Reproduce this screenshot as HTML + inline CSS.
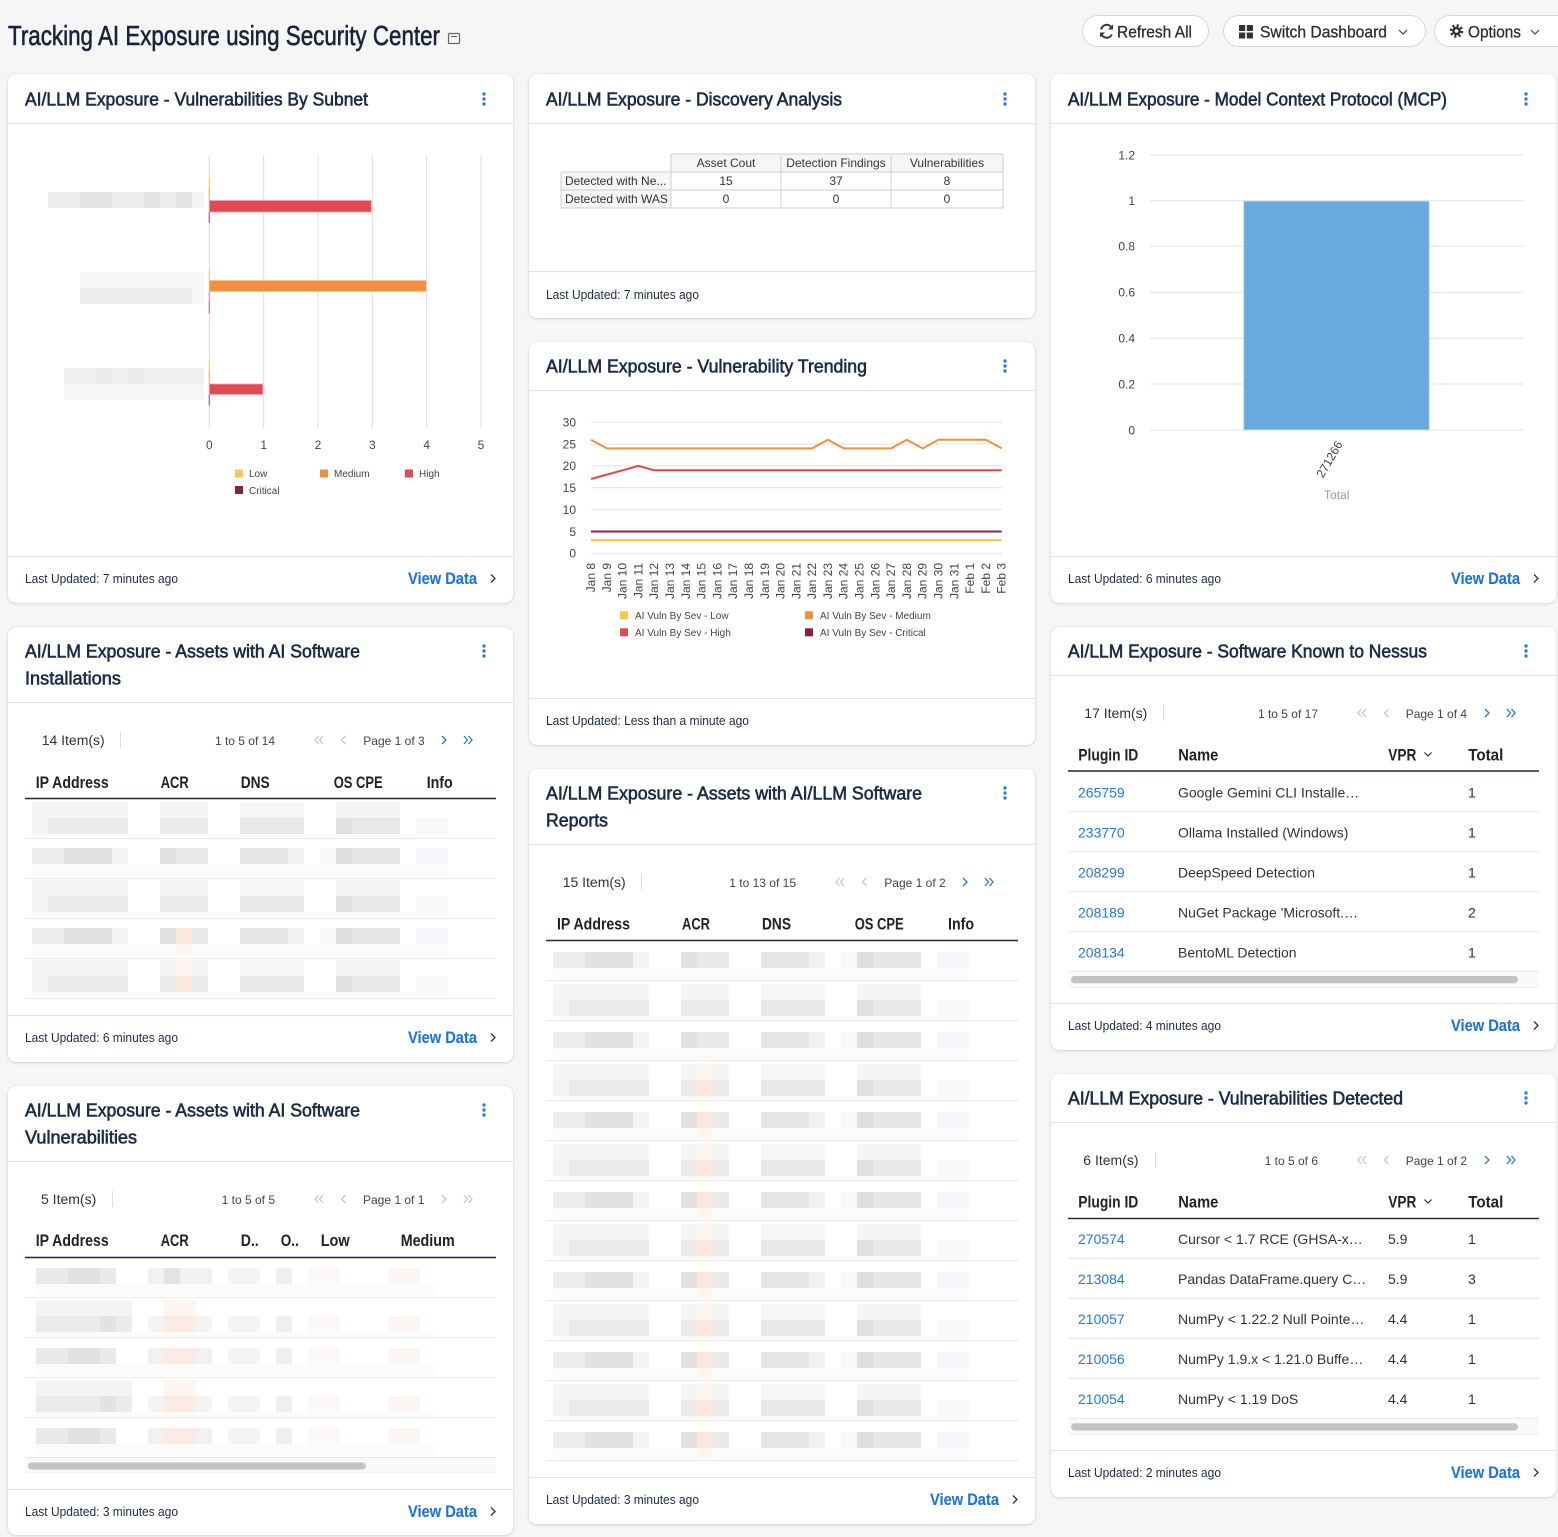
<!DOCTYPE html>
<html><head><meta charset="utf-8">
<style>
html,body{margin:0;padding:0;background:#f6f6f7;}
body{width:1558px;height:1537px;position:relative;overflow:hidden;}
.c{position:absolute;background:#fff;border-radius:8px;box-shadow:0 1px 3px rgba(0,0,0,0.13),0 0 1px rgba(0,0,0,0.14);}
svg{position:absolute;left:0;top:0;}
text{font-family:"Liberation Sans",Arial,sans-serif;}
.t{font-size:18.5px;fill:#1b2a47;stroke:#1b2a47;stroke-width:0.6;}
.f{font-size:13px;fill:#1e2b45;}
.v{font-size:17px;font-weight:bold;fill:#1c73d8;stroke:#1c73d8;stroke-width:0.1;}
.h{font-size:17px;font-weight:bold;fill:#222;}
.d{font-size:14px;fill:#333;}
.s{font-size:12px;fill:#444;}
.lk{font-size:14px;fill:#2478d8;}
.ax{font-size:12px;fill:#444;}
.lg{font-size:10px;fill:#444;}
.bt{font-size:17px;fill:#2e2e2e;stroke:#2e2e2e;stroke-width:0.3;}
</style></head><body>
<div class="c" style="left:8px;top:74px;width:505px;height:529px"></div>
<div class="c" style="left:8px;top:627px;width:505px;height:435px"></div>
<div class="c" style="left:8px;top:1086px;width:505px;height:449px"></div>
<div class="c" style="left:529px;top:74px;width:506px;height:244px"></div>
<div class="c" style="left:529px;top:342px;width:506px;height:403px"></div>
<div class="c" style="left:529px;top:769px;width:506px;height:755px"></div>
<div class="c" style="left:1051px;top:74px;width:505px;height:529px"></div>
<div class="c" style="left:1051px;top:627px;width:505px;height:423px"></div>
<div class="c" style="left:1051px;top:1074px;width:505px;height:423px"></div>

<svg width="1558" height="1537" viewBox="0 0 1558 1537">
<defs>
 <g id="bA">
  <rect x="24" y="28" width="416" height="12" fill="#fbfbfb"/>
  <rect x="24" y="12" width="96" height="16" fill="#ececec"/>
  <rect x="56" y="12" width="48" height="16" fill="#e2e2e2"/>
  <rect x="104" y="12" width="16" height="16" fill="#f4f4f4"/>
  <rect x="152" y="12" width="48" height="16" fill="#e9e9e9"/>
  <rect x="152" y="12" width="16" height="16" fill="#e2e2e2"/>
  <rect x="232" y="12" width="64" height="16" fill="#e6e6e6"/>
  <rect x="280" y="12" width="16" height="16" fill="#f1f1f1"/>
  <rect x="312" y="12" width="16" height="16" fill="#f9f9f9"/>
  <rect x="328" y="12" width="64" height="16" fill="#e7e7e7"/>
  <rect x="328" y="12" width="16" height="16" fill="#dedede"/>
  <rect x="408" y="12" width="32" height="16" fill="#f5f6fb"/>
 </g>
 <g id="bB">
  <rect x="24" y="36" width="416" height="4" fill="#fbfbfb"/>
  <rect x="24" y="4" width="96" height="16" fill="#f5f5f5"/>
  <rect x="152" y="4" width="48" height="16" fill="#f5f5f5"/>
  <rect x="232" y="4" width="64" height="16" fill="#f6f6f6"/>
  <rect x="328" y="4" width="64" height="16" fill="#f5f5f5"/>
  <rect x="24" y="20" width="96" height="16" fill="#ebebeb"/>
  <rect x="24" y="20" width="16" height="16" fill="#f3f3f3"/>
  <rect x="152" y="20" width="48" height="16" fill="#ebebeb"/>
  <rect x="232" y="20" width="64" height="16" fill="#e8e8e8"/>
  <rect x="328" y="20" width="64" height="16" fill="#e9e9e9"/>
  <rect x="328" y="20" width="16" height="16" fill="#e1e1e1"/>
  <rect x="408" y="20" width="32" height="16" fill="#f8f8fb"/>
 </g>
 <g id="pA"><rect x="168" y="12" width="16" height="16" fill="#fde6de"/><rect x="168" y="28" width="16" height="12" fill="#fdf5f2"/></g>
 <g id="pB"><rect x="168" y="4" width="16" height="16" fill="#fdf3ef"/><rect x="168" y="20" width="16" height="16" fill="#fde6de"/></g>
 <g id="cA">
  <rect x="28" y="27" width="400" height="12" fill="#fbfbfb"/>
  <rect x="28" y="11" width="80" height="16" fill="#e9e9e9"/>
  <rect x="60" y="11" width="32" height="16" fill="#e1e1e1"/>
  <rect x="140" y="11" width="64" height="16" fill="#f1f1f1"/>
  <rect x="156" y="11" width="16" height="16" fill="#e3e3e3"/>
  <rect x="220" y="11" width="32" height="16" fill="#f3f3f3"/>
  <rect x="268" y="11" width="16" height="16" fill="#efefef"/>
  <rect x="300" y="11" width="32" height="16" fill="#fbf8f7"/>
  <rect x="380" y="11" width="32" height="16" fill="#fbf5f4"/>
 </g>
 <g id="cB">
  <rect x="28" y="35" width="400" height="5" fill="#fbfbfb"/>
  <rect x="28" y="3" width="96" height="16" fill="#f4f4f4"/>
  <rect x="28" y="19" width="96" height="16" fill="#ebebeb"/>
  <rect x="92" y="19" width="16" height="16" fill="#e2e2e2"/>
  <rect x="140" y="19" width="64" height="16" fill="#f3f3f3"/>
  <rect x="220" y="19" width="32" height="16" fill="#f3f3f3"/>
  <rect x="268" y="19" width="16" height="16" fill="#efefef"/>
  <rect x="300" y="19" width="32" height="16" fill="#fbf8f7"/>
  <rect x="380" y="19" width="32" height="16" fill="#fbf5f4"/>
 </g>
 <g id="cpA"><rect x="156" y="11" width="32" height="16" fill="#fcebe5"/></g>
 <g id="cpB"><rect x="156" y="3" width="32" height="16" fill="#fdf5f2"/><rect x="156" y="19" width="32" height="16" fill="#fcebe5"/></g>
 <g id="pgOn" fill="none" stroke-width="1.3">
  <path d="M318.5,-4 l-3.5,4 l3.5,4 M323,-4 l-3.5,4 l3.5,4 M345.5,-4 l-4,4 l4,4" stroke="#c9c9c9"/>
  <path d="M442,-4 l4,4 l-4,4 M464,-4 l3.5,4 l-3.5,4 M468.5,-4 l3.5,4 l-3.5,4" stroke="#2478d8"/>
 </g>
 <g id="pgOff" fill="none" stroke-width="1.3">
  <path d="M318.5,-4 l-3.5,4 l3.5,4 M323,-4 l-3.5,4 l3.5,4 M345.5,-4 l-4,4 l4,4" stroke="#c9c9c9"/>
  <path d="M442,-4 l4,4 l-4,4 M464,-4 l3.5,4 l-3.5,4 M468.5,-4 l3.5,4 l-3.5,4" stroke="#c9c9c9"/>
 </g>
</defs>

<!-- Page header -->
<text x="8" y="45" font-size="28" fill="#16233d" stroke="#16233d" stroke-width="0.6" textLength="432" lengthAdjust="spacingAndGlyphs">Tracking AI Exposure using Security Center</text>
<rect x="448.5" y="33.5" width="11" height="10" rx="1" fill="none" stroke="#666" stroke-width="1.2"/>
<line x1="451" y1="36.5" x2="457" y2="36.5" stroke="#666" stroke-width="1"/>

<rect x="1082.5" y="15.5" width="126" height="31" rx="15.5" fill="#fff" stroke="#d8d8d8"/>
<path d="M1111.8,28 A5.6,5.6 0 0 0 1101.2,29.5" fill="none" stroke="#333" stroke-width="2"/>
<path d="M1113,24.5 l0,5 l-5,0 z" fill="#333"/>
<path d="M1101.2,33 A5.6,5.6 0 0 0 1111.8,34.5" fill="none" stroke="#333" stroke-width="2"/>
<path d="M1100,37.5 l0,-5 l5,0 z" fill="#333"/>
<text x="1117" y="37.3" class="bt" textLength="75" lengthAdjust="spacingAndGlyphs">Refresh All</text>

<rect x="1223.5" y="15.5" width="202" height="31" rx="15.5" fill="#fff" stroke="#d8d8d8"/>
<rect x="1239" y="25" width="6.2" height="6" fill="#333"/><rect x="1246.8" y="25" width="6.2" height="6" fill="#333"/>
<rect x="1239" y="32.5" width="6.2" height="6" fill="#333"/><rect x="1246.8" y="32.5" width="6.2" height="6" fill="#333"/>
<text x="1260" y="37.3" class="bt" textLength="127" lengthAdjust="spacingAndGlyphs">Switch Dashboard</text>
<path d="M1399,30 l4,4 l4,-4" fill="none" stroke="#444" stroke-width="1.2"/>

<rect x="1434.5" y="15.5" width="140" height="31" rx="15.5" fill="#fff" stroke="#d8d8d8"/>
<circle cx="1456.5" cy="31" r="5.3" fill="none" stroke="#333" stroke-width="3" stroke-dasharray="2.1 2.06"/>
<circle cx="1456.5" cy="31" r="4.3" fill="#333"/>
<circle cx="1456.5" cy="31" r="1.8" fill="#fff"/>
<text x="1468" y="37.3" class="bt" textLength="53" lengthAdjust="spacingAndGlyphs">Options</text>
<path d="M1531,30 l4,4 l4,-4" fill="none" stroke="#444" stroke-width="1.2"/>

<!-- Card dividers -->
<g stroke="#e3e3e3" stroke-width="1.2">
 <line x1="8" y1="123.5" x2="513" y2="123.5"/><line x1="8" y1="556.5" x2="513" y2="556.5"/>
 <line x1="8" y1="702.5" x2="513" y2="702.5"/><line x1="8" y1="1015.5" x2="513" y2="1015.5"/>
 <line x1="8" y1="1161.5" x2="513" y2="1161.5"/><line x1="8" y1="1489.5" x2="513" y2="1489.5"/>
 <line x1="529" y1="123.5" x2="1035" y2="123.5"/><line x1="529" y1="271.5" x2="1035" y2="271.5"/>
 <line x1="529" y1="390.5" x2="1035" y2="390.5"/><line x1="529" y1="698.5" x2="1035" y2="698.5"/>
 <line x1="529" y1="844.5" x2="1035" y2="844.5"/><line x1="529" y1="1477.5" x2="1035" y2="1477.5"/>
 <line x1="1051" y1="123.5" x2="1556" y2="123.5"/><line x1="1051" y1="556.5" x2="1556" y2="556.5"/>
 <line x1="1051" y1="675.5" x2="1556" y2="675.5"/><line x1="1051" y1="1003.5" x2="1556" y2="1003.5"/>
 <line x1="1051" y1="1122.5" x2="1556" y2="1122.5"/><line x1="1051" y1="1450.5" x2="1556" y2="1450.5"/>
</g>

<!-- Card titles -->
<text x="25" y="105.5" class="t" textLength="343" lengthAdjust="spacingAndGlyphs">AI/LLM Exposure - Vulnerabilities By Subnet</text>
<text x="546" y="105.5" class="t" textLength="296" lengthAdjust="spacingAndGlyphs">AI/LLM Exposure - Discovery Analysis</text>
<text x="1068" y="105.5" class="t" textLength="379" lengthAdjust="spacingAndGlyphs">AI/LLM Exposure - Model Context Protocol (MCP)</text>
<text x="25" y="657.5" class="t" textLength="335" lengthAdjust="spacingAndGlyphs">AI/LLM Exposure - Assets with AI Software</text>
<text x="25" y="684.5" class="t" textLength="96" lengthAdjust="spacingAndGlyphs">Installations</text>
<text x="546" y="372.5" class="t" textLength="321" lengthAdjust="spacingAndGlyphs">AI/LLM Exposure - Vulnerability Trending</text>
<text x="1068" y="657.5" class="t" textLength="359" lengthAdjust="spacingAndGlyphs">AI/LLM Exposure - Software Known to Nessus</text>
<text x="546" y="799.5" class="t" textLength="376" lengthAdjust="spacingAndGlyphs">AI/LLM Exposure - Assets with AI/LLM Software</text>
<text x="546" y="826.5" class="t" textLength="62" lengthAdjust="spacingAndGlyphs">Reports</text>
<text x="25" y="1116.5" class="t" textLength="335" lengthAdjust="spacingAndGlyphs">AI/LLM Exposure - Assets with AI Software</text>
<text x="25" y="1143.5" class="t" textLength="112" lengthAdjust="spacingAndGlyphs">Vulnerabilities</text>
<text x="1068" y="1104.5" class="t" textLength="335" lengthAdjust="spacingAndGlyphs">AI/LLM Exposure - Vulnerabilities Detected</text>

<!-- kebab menus -->
<g fill="#2f7fe0">
 <circle cx="484" cy="94" r="1.7"/><circle cx="484" cy="99" r="1.7"/><circle cx="484" cy="104" r="1.7"/>
 <circle cx="1005" cy="94" r="1.7"/><circle cx="1005" cy="99" r="1.7"/><circle cx="1005" cy="104" r="1.7"/>
 <circle cx="1526" cy="94" r="1.7"/><circle cx="1526" cy="99" r="1.7"/><circle cx="1526" cy="104" r="1.7"/>
 <circle cx="484" cy="646" r="1.7"/><circle cx="484" cy="651" r="1.7"/><circle cx="484" cy="656" r="1.7"/>
 <circle cx="1005" cy="361" r="1.7"/><circle cx="1005" cy="366" r="1.7"/><circle cx="1005" cy="371" r="1.7"/>
 <circle cx="1526" cy="646" r="1.7"/><circle cx="1526" cy="651" r="1.7"/><circle cx="1526" cy="656" r="1.7"/>
 <circle cx="1005" cy="788" r="1.7"/><circle cx="1005" cy="793" r="1.7"/><circle cx="1005" cy="798" r="1.7"/>
 <circle cx="484" cy="1105" r="1.7"/><circle cx="484" cy="1110" r="1.7"/><circle cx="484" cy="1115" r="1.7"/>
 <circle cx="1526" cy="1093" r="1.7"/><circle cx="1526" cy="1098" r="1.7"/><circle cx="1526" cy="1103" r="1.7"/>
</g>

<!-- Footers -->
<text x="25" y="583" class="f" textLength="153" lengthAdjust="spacingAndGlyphs">Last Updated: 7 minutes ago</text>
<text x="546" y="299" class="f" textLength="153" lengthAdjust="spacingAndGlyphs">Last Updated: 7 minutes ago</text>
<text x="1068" y="583" class="f" textLength="153" lengthAdjust="spacingAndGlyphs">Last Updated: 6 minutes ago</text>
<text x="546" y="725" class="f" textLength="203" lengthAdjust="spacingAndGlyphs">Last Updated: Less than a minute ago</text>
<text x="25" y="1042" class="f" textLength="153" lengthAdjust="spacingAndGlyphs">Last Updated: 6 minutes ago</text>
<text x="1068" y="1030" class="f" textLength="153" lengthAdjust="spacingAndGlyphs">Last Updated: 4 minutes ago</text>
<text x="546" y="1504" class="f" textLength="153" lengthAdjust="spacingAndGlyphs">Last Updated: 3 minutes ago</text>
<text x="25" y="1516" class="f" textLength="153" lengthAdjust="spacingAndGlyphs">Last Updated: 3 minutes ago</text>
<text x="1068" y="1477" class="f" textLength="153" lengthAdjust="spacingAndGlyphs">Last Updated: 2 minutes ago</text>

<text x="408" y="584" class="v" textLength="69" lengthAdjust="spacingAndGlyphs">View Data</text>
<text x="1451" y="584" class="v" textLength="69" lengthAdjust="spacingAndGlyphs">View Data</text>
<text x="408" y="1043" class="v" textLength="69" lengthAdjust="spacingAndGlyphs">View Data</text>
<text x="1451" y="1031" class="v" textLength="69" lengthAdjust="spacingAndGlyphs">View Data</text>
<text x="930" y="1505" class="v" textLength="69" lengthAdjust="spacingAndGlyphs">View Data</text>
<text x="408" y="1517" class="v" textLength="69" lengthAdjust="spacingAndGlyphs">View Data</text>
<text x="1451" y="1478" class="v" textLength="69" lengthAdjust="spacingAndGlyphs">View Data</text>
<g fill="none" stroke="#333" stroke-width="1.3">
 <path d="M491,574.5 l4,4 l-4,4"/><path d="M1534,574.5 l4,4 l-4,4"/>
 <path d="M491,1033.5 l4,4 l-4,4"/><path d="M1534,1021.5 l4,4 l-4,4"/>
 <path d="M1013,1495.5 l4,4 l-4,4"/><path d="M491,1507.5 l4,4 l-4,4"/>
 <path d="M1534,1468.5 l4,4 l-4,4"/>
</g>

<!-- ===== Card A: Subnet bar chart ===== -->
<g stroke="#dcdcdc" stroke-width="1">
 <line x1="209.3" y1="155" x2="209.3" y2="428"/><line x1="263.7" y1="155" x2="263.7" y2="428"/>
 <line x1="318" y1="155" x2="318" y2="428"/><line x1="372.3" y1="155" x2="372.3" y2="428"/>
 <line x1="426.7" y1="155" x2="426.7" y2="428"/><line x1="481" y1="155" x2="481" y2="428"/>
</g>
<rect x="48" y="192" width="156" height="16" fill="#ededed"/>
<rect x="80" y="192" width="32" height="16" fill="#e4e4e4"/>
<rect x="144" y="192" width="16" height="16" fill="#e4e4e4"/>
<rect x="176" y="192" width="16" height="16" fill="#e3e3e3"/>
<rect x="192" y="192" width="12" height="16" fill="#f4f4f4"/>
<rect x="80" y="272" width="124" height="16" fill="#f7f7f7"/>
<rect x="80" y="288" width="124" height="16" fill="#eeeeee"/>
<rect x="192" y="288" width="12" height="16" fill="#f7f7f7"/>
<rect x="64" y="368" width="140" height="16" fill="#f0f0f0"/>
<rect x="96" y="368" width="16" height="16" fill="#ebebeb"/>
<rect x="128" y="368" width="16" height="16" fill="#ebebeb"/>
<rect x="64" y="384" width="140" height="16" fill="#f6f6f6"/>
<rect x="208.6" y="178" width="1.5" height="11" fill="#f8d57a"/>
<rect x="208.6" y="189" width="1.5" height="11" fill="#f3b98c"/>
<rect x="208.6" y="212" width="1.5" height="11" fill="#b8788a"/>
<rect x="208.6" y="269" width="1.5" height="11" fill="#f8d57a"/>
<rect x="208.6" y="291.5" width="1.5" height="11" fill="#ec9ea2"/>
<rect x="208.6" y="302.5" width="1.5" height="11" fill="#c58a9a"/>
<rect x="208.6" y="361" width="1.5" height="11" fill="#f8d57a"/>
<rect x="208.6" y="372" width="1.5" height="12" fill="#f3b98c"/>
<rect x="208.6" y="394.5" width="1.5" height="11" fill="#b8788a"/>
<rect x="209.3" y="200.5" width="162" height="11.5" fill="#e04b53" stroke="#f2a3a6" stroke-width="0.8"/>
<rect x="209.3" y="280.5" width="217" height="11" fill="#f08f42" stroke="#f6c196" stroke-width="0.8"/>
<rect x="209.3" y="384" width="53.5" height="10.5" fill="#e04b53" stroke="#f2a3a6" stroke-width="0.8"/>
<g class="ax" text-anchor="middle">
 <text x="209.3" y="449">0</text><text x="263.7" y="449">1</text><text x="318" y="449">2</text>
 <text x="372.3" y="449">3</text><text x="426.7" y="449">4</text><text x="481" y="449">5</text>
</g>
<rect x="235" y="469.5" width="8" height="8" fill="#f8c84e"/><text x="249" y="477" class="lg">Low</text>
<rect x="320" y="469.5" width="8" height="8" fill="#f08f42"/><text x="334" y="477" class="lg">Medium</text>
<rect x="405" y="469.5" width="8" height="8" fill="#e04b53"/><text x="419" y="477" class="lg">High</text>
<rect x="235" y="486" width="8" height="8" fill="#8b2040"/><text x="249" y="494" class="lg">Critical</text>

<!-- ===== Card D: Discovery table ===== -->
<rect x="671" y="154" width="332" height="18" fill="#f6f6f6"/>
<rect x="561" y="172" width="110" height="36" fill="#f6f6f6"/>
<g stroke="#d6d6d6" stroke-width="1.2" fill="none">
 <line x1="671" y1="154" x2="1003" y2="154"/>
 <line x1="561" y1="172" x2="1003" y2="172"/>
 <line x1="561" y1="190" x2="1003" y2="190"/>
 <line x1="561" y1="208" x2="1003" y2="208"/>
 <line x1="561" y1="172" x2="561" y2="208"/>
 <line x1="671" y1="154" x2="671" y2="208"/>
 <line x1="781" y1="154" x2="781" y2="208"/>
 <line x1="891" y1="154" x2="891" y2="208"/>
 <line x1="1003" y1="154" x2="1003" y2="208"/>
</g>
<g font-size="12" fill="#333" text-anchor="middle">
 <text x="726" y="167">Asset Cout</text><text x="836" y="167">Detection Findings</text><text x="947" y="167">Vulnerabilities</text>
 <text x="726" y="185">15</text><text x="836" y="185">37</text><text x="947" y="185">8</text>
 <text x="726" y="203">0</text><text x="836" y="203">0</text><text x="947" y="203">0</text>
</g>
<text x="565" y="185" font-size="12" fill="#333">Detected with Ne...</text>
<text x="565" y="203" font-size="12" fill="#333">Detected with WAS</text>

<!-- ===== Card E: Trending ===== -->
<g stroke="#e2e2e2" stroke-width="1">
 <line x1="591" y1="422.2" x2="1002" y2="422.2"/><line x1="591" y1="444.1" x2="1002" y2="444.1"/>
 <line x1="591" y1="465.9" x2="1002" y2="465.9"/><line x1="591" y1="487.8" x2="1002" y2="487.8"/>
 <line x1="591" y1="509.6" x2="1002" y2="509.6"/><line x1="591" y1="531.5" x2="1002" y2="531.5"/>
 <line x1="591" y1="553.3" x2="1002" y2="553.3"/>
</g>
<g class="ax" text-anchor="end">
 <text x="576" y="426.5">30</text><text x="576" y="448.4">25</text><text x="576" y="470.2">20</text>
 <text x="576" y="492.1">15</text><text x="576" y="513.9">10</text><text x="576" y="535.8">5</text><text x="576" y="557.6">0</text>
</g>
<g fill="none" stroke-width="2" stroke-linejoin="round">
 <path d="M591,540.2 H1001.7" stroke="#f6c344"/>
 <path d="M591,531.5 H1001.7" stroke="#8e2343"/>
 <path d="M591,479 L606.8,474.6 L622.6,470.3 L638.4,465.9 L654.2,470.3 L1001.7,470.3" stroke="#e0474f"/>
 <path d="M591,439.7 L606.8,448.4 L812.1,448.4 L827.9,439.7 L843.7,448.4 L891.1,448.4 L906.9,439.7 L922.7,448.4 L938.5,439.7 L985.9,439.7 L1001.7,448.4" stroke="#f0913f"/>
</g>
<g class="ax" text-anchor="end">
 <text transform="translate(595,563) rotate(-90)">Jan 8</text>
 <text transform="translate(610.8,563) rotate(-90)">Jan 9</text>
 <text transform="translate(626.6,563) rotate(-90)">Jan 10</text>
 <text transform="translate(642.4,563) rotate(-90)">Jan 11</text>
 <text transform="translate(658.2,563) rotate(-90)">Jan 12</text>
 <text transform="translate(674,563) rotate(-90)">Jan 13</text>
 <text transform="translate(689.8,563) rotate(-90)">Jan 14</text>
 <text transform="translate(705.6,563) rotate(-90)">Jan 15</text>
 <text transform="translate(721.4,563) rotate(-90)">Jan 16</text>
 <text transform="translate(737.2,563) rotate(-90)">Jan 17</text>
 <text transform="translate(753,563) rotate(-90)">Jan 18</text>
 <text transform="translate(768.8,563) rotate(-90)">Jan 19</text>
 <text transform="translate(784.6,563) rotate(-90)">Jan 20</text>
 <text transform="translate(800.3,563) rotate(-90)">Jan 21</text>
 <text transform="translate(816.1,563) rotate(-90)">Jan 22</text>
 <text transform="translate(831.9,563) rotate(-90)">Jan 23</text>
 <text transform="translate(847.7,563) rotate(-90)">Jan 24</text>
 <text transform="translate(863.5,563) rotate(-90)">Jan 25</text>
 <text transform="translate(879.3,563) rotate(-90)">Jan 26</text>
 <text transform="translate(895.1,563) rotate(-90)">Jan 27</text>
 <text transform="translate(910.9,563) rotate(-90)">Jan 28</text>
 <text transform="translate(926.7,563) rotate(-90)">Jan 29</text>
 <text transform="translate(942.5,563) rotate(-90)">Jan 30</text>
 <text transform="translate(958.3,563) rotate(-90)">Jan 31</text>
 <text transform="translate(974.1,563) rotate(-90)">Feb 1</text>
 <text transform="translate(989.9,563) rotate(-90)">Feb 2</text>
 <text transform="translate(1005.7,563) rotate(-90)">Feb 3</text>
</g>
<rect x="620" y="611.3" width="8" height="8" fill="#f8c84e"/><text x="635" y="619" class="lg">AI Vuln By Sev - Low</text>
<rect x="805" y="611.3" width="8" height="8" fill="#f0913f"/><text x="820" y="619" class="lg">AI Vuln By Sev - Medium</text>
<rect x="620" y="628.3" width="8" height="8" fill="#e04a52"/><text x="635" y="636" class="lg">AI Vuln By Sev - High</text>
<rect x="805" y="628.3" width="8" height="8" fill="#8b1f3f"/><text x="820" y="636" class="lg">AI Vuln By Sev - Critical</text>

<!-- ===== Card G: MCP ===== -->
<g stroke="#e0e0e0" stroke-width="1">
 <line x1="1150" y1="155" x2="1523" y2="155"/><line x1="1150" y1="200.7" x2="1523" y2="200.7"/>
 <line x1="1150" y1="246.3" x2="1523" y2="246.3"/><line x1="1150" y1="292.3" x2="1523" y2="292.3"/>
 <line x1="1150" y1="338.3" x2="1523" y2="338.3"/><line x1="1150" y1="384" x2="1523" y2="384"/>
 <line x1="1150" y1="430" x2="1523" y2="430"/>
</g>
<g class="ax" text-anchor="end">
 <text x="1135" y="159.3">1.2</text><text x="1135" y="205">1</text><text x="1135" y="250.6">0.8</text>
 <text x="1135" y="296.6">0.6</text><text x="1135" y="342.6">0.4</text><text x="1135" y="388.3">0.2</text><text x="1135" y="434.3">0</text>
</g>
<rect x="1243.7" y="201" width="185.6" height="229" fill="#67aadd" stroke="#c5def2" stroke-width="1"/>
<text class="ax" text-anchor="end" transform="translate(1343,444) rotate(-60)">271266</text>
<text x="1336.7" y="499" font-size="12" fill="#999" text-anchor="middle">Total</text>

<!-- ===== Card B ===== -->
<text x="41.7" y="745" class="d">14 Item(s)</text>
<line x1="120.5" y1="732" x2="120.5" y2="748" stroke="#ddd"/>
<text x="275" y="745" class="s" text-anchor="end">1 to 5 of 14</text>
<text x="363.3" y="745" class="s">Page 1 of 3</text>
<use href="#pgOn" transform="translate(0,740)"/>
<text x="35.7" y="788" class="h" textLength="73" lengthAdjust="spacingAndGlyphs">IP Address</text>
<text x="160.7" y="788" class="h" textLength="28" lengthAdjust="spacingAndGlyphs">ACR</text>
<text x="240.7" y="788" class="h" textLength="29" lengthAdjust="spacingAndGlyphs">DNS</text>
<text x="333.7" y="788" class="h" textLength="49" lengthAdjust="spacingAndGlyphs">OS CPE</text>
<text x="426.7" y="788" class="h" textLength="26" lengthAdjust="spacingAndGlyphs">Info</text>
<g stroke="#ebebeb"><line x1="25" y1="838.5" x2="496" y2="838.5"/><line x1="25" y1="878.5" x2="496" y2="878.5"/><line x1="25" y1="918.5" x2="496" y2="918.5"/><line x1="25" y1="958.5" x2="496" y2="958.5"/><line x1="25" y1="998.5" x2="496" y2="998.5"/></g>
<use href="#bB" transform="translate(8,798)"/>
<use href="#bA" transform="translate(8,836)"/>
<use href="#bB" transform="translate(8,876)"/>
<use href="#bA" transform="translate(8,916)"/><use href="#pA" transform="translate(8,916)"/>
<use href="#bB" transform="translate(8,956)"/><use href="#pB" transform="translate(8,956)"/>
<line x1="25" y1="798.5" x2="496" y2="798.5" stroke="#1b2a47" stroke-width="1.6"/>

<!-- ===== Card C ===== -->
<text x="41" y="1204" class="d">5 Item(s)</text>
<line x1="112.5" y1="1191" x2="112.5" y2="1207" stroke="#ddd"/>
<text x="275" y="1204" class="s" text-anchor="end">1 to 5 of 5</text>
<text x="363" y="1204" class="s">Page 1 of 1</text>
<use href="#pgOff" transform="translate(0,1199)"/>
<text x="35.7" y="1246" class="h" textLength="73" lengthAdjust="spacingAndGlyphs">IP Address</text>
<text x="160.7" y="1246" class="h" textLength="28" lengthAdjust="spacingAndGlyphs">ACR</text>
<text x="240.7" y="1246" class="h" textLength="18" lengthAdjust="spacingAndGlyphs">D..</text>
<text x="280.7" y="1246" class="h" textLength="18" lengthAdjust="spacingAndGlyphs">O..</text>
<text x="320.7" y="1246" class="h" textLength="29" lengthAdjust="spacingAndGlyphs">Low</text>
<text x="400.7" y="1246" class="h" textLength="54" lengthAdjust="spacingAndGlyphs">Medium</text>
<g stroke="#ebebeb"><line x1="25" y1="1297.5" x2="496" y2="1297.5"/><line x1="25" y1="1337.5" x2="496" y2="1337.5"/><line x1="25" y1="1377.5" x2="496" y2="1377.5"/><line x1="25" y1="1417.5" x2="496" y2="1417.5"/></g>
<use href="#cA" transform="translate(8,1257)"/>
<use href="#cB" transform="translate(8,1297)"/><use href="#cpB" transform="translate(8,1297)"/>
<use href="#cA" transform="translate(8,1337)"/><use href="#cpA" transform="translate(8,1337)"/>
<use href="#cB" transform="translate(8,1377)"/><use href="#cpB" transform="translate(8,1377)"/>
<use href="#cA" transform="translate(8,1417)"/><use href="#cpA" transform="translate(8,1417)"/>
<line x1="25" y1="1257.5" x2="496" y2="1257.5" stroke="#1b2a47" stroke-width="1.6"/>
<rect x="25" y="1457" width="471" height="15" fill="#fafafa"/>
<line x1="25" y1="1457.5" x2="496" y2="1457.5" stroke="#e3e3e3"/>
<line x1="25" y1="1472.5" x2="496" y2="1472.5" stroke="#efefef"/>
<rect x="28" y="1462.5" width="338" height="7" rx="3.5" fill="#c3c3c3"/>

<!-- ===== Card F ===== -->
<text x="562.7" y="887" class="d">15 Item(s)</text>
<line x1="641.5" y1="874" x2="641.5" y2="890" stroke="#ddd"/>
<text x="796" y="887" class="s" text-anchor="end">1 to 13 of 15</text>
<text x="884.3" y="887" class="s">Page 1 of 2</text>
<use href="#pgOn" transform="translate(521,882)"/>
<text x="557" y="929.5" class="h" textLength="73" lengthAdjust="spacingAndGlyphs">IP Address</text>
<text x="682" y="929.5" class="h" textLength="28" lengthAdjust="spacingAndGlyphs">ACR</text>
<text x="762" y="929.5" class="h" textLength="29" lengthAdjust="spacingAndGlyphs">DNS</text>
<text x="854.7" y="929.5" class="h" textLength="49" lengthAdjust="spacingAndGlyphs">OS CPE</text>
<text x="948" y="929.5" class="h" textLength="26" lengthAdjust="spacingAndGlyphs">Info</text>
<g stroke="#ebebeb">
 <line x1="546" y1="980.5" x2="1018" y2="980.5"/><line x1="546" y1="1020.5" x2="1018" y2="1020.5"/>
 <line x1="546" y1="1060.5" x2="1018" y2="1060.5"/><line x1="546" y1="1100.5" x2="1018" y2="1100.5"/>
 <line x1="546" y1="1140.5" x2="1018" y2="1140.5"/><line x1="546" y1="1180.5" x2="1018" y2="1180.5"/>
 <line x1="546" y1="1220.5" x2="1018" y2="1220.5"/><line x1="546" y1="1260.5" x2="1018" y2="1260.5"/>
 <line x1="546" y1="1300.5" x2="1018" y2="1300.5"/><line x1="546" y1="1340.5" x2="1018" y2="1340.5"/>
 <line x1="546" y1="1380.5" x2="1018" y2="1380.5"/><line x1="546" y1="1420.5" x2="1018" y2="1420.5"/>
 <line x1="546" y1="1460.5" x2="1018" y2="1460.5"/>
</g>
<use href="#bA" transform="translate(529,940)"/>
<use href="#bB" transform="translate(529,980)"/>
<use href="#bA" transform="translate(529,1020)"/>
<use href="#bB" transform="translate(529,1060)"/><use href="#pB" transform="translate(529,1060)"/>
<use href="#bA" transform="translate(529,1100)"/><use href="#pA" transform="translate(529,1100)"/>
<use href="#bB" transform="translate(529,1140)"/><use href="#pB" transform="translate(529,1140)"/>
<use href="#bA" transform="translate(529,1180)"/><use href="#pA" transform="translate(529,1180)"/>
<use href="#bB" transform="translate(529,1220)"/><use href="#pB" transform="translate(529,1220)"/>
<use href="#bA" transform="translate(529,1260)"/><use href="#pA" transform="translate(529,1260)"/>
<use href="#bB" transform="translate(529,1300)"/><use href="#pB" transform="translate(529,1300)"/>
<use href="#bA" transform="translate(529,1340)"/><use href="#pA" transform="translate(529,1340)"/>
<use href="#bB" transform="translate(529,1380)"/><use href="#pB" transform="translate(529,1380)"/>
<use href="#bA" transform="translate(529,1420)"/><use href="#pA" transform="translate(529,1420)"/>
<line x1="546" y1="940.5" x2="1018" y2="940.5" stroke="#1b2a47" stroke-width="1.6"/>

<!-- ===== Card H ===== -->
<text x="1084.3" y="718" class="d">17 Item(s)</text>
<line x1="1163.5" y1="705" x2="1163.5" y2="721" stroke="#ddd"/>
<text x="1318" y="718" class="s" text-anchor="end">1 to 5 of 17</text>
<text x="1405.7" y="718" class="s">Page 1 of 4</text>
<use href="#pgOn" transform="translate(1043,713)"/>
<text x="1078.3" y="760.5" class="h" textLength="60" lengthAdjust="spacingAndGlyphs">Plugin ID</text>
<text x="1178.3" y="760.5" class="h" textLength="40" lengthAdjust="spacingAndGlyphs">Name</text>
<text x="1388.3" y="760.5" class="h" textLength="28" lengthAdjust="spacingAndGlyphs">VPR</text>
<path d="M1424.5,752.5 l3.5,3.5 l3.5,-3.5" fill="none" stroke="#333" stroke-width="1.2"/>
<text x="1468.3" y="760.5" class="h" textLength="35" lengthAdjust="spacingAndGlyphs">Total</text>
<line x1="1068" y1="771" x2="1539" y2="771" stroke="#1b2a47" stroke-width="1.6"/>
<g stroke="#e6e6e6"><line x1="1068" y1="811.7" x2="1539" y2="811.7"/><line x1="1068" y1="851.7" x2="1539" y2="851.7"/><line x1="1068" y1="891.7" x2="1539" y2="891.7"/><line x1="1068" y1="931.7" x2="1539" y2="931.7"/><line x1="1068" y1="971.7" x2="1539" y2="971.7"/></g>
<text x="1078" y="797.3" class="lk">265759</text><text x="1178" y="797.3" class="d">Google Gemini CLI Installe…</text><text x="1468" y="797.3" class="d">1</text>
<text x="1078" y="837.3" class="lk">233770</text><text x="1178" y="837.3" class="d">Ollama Installed (Windows)</text><text x="1468" y="837.3" class="d">1</text>
<text x="1078" y="877.3" class="lk">208299</text><text x="1178" y="877.3" class="d">DeepSpeed Detection</text><text x="1468" y="877.3" class="d">1</text>
<text x="1078" y="917.3" class="lk">208189</text><text x="1178" y="917.3" class="d">NuGet Package 'Microsoft.…</text><text x="1468" y="917.3" class="d">2</text>
<text x="1078" y="957.3" class="lk">208134</text><text x="1178" y="957.3" class="d">BentoML Detection</text><text x="1468" y="957.3" class="d">1</text>
<rect x="1068" y="972.2" width="471" height="15" fill="#fafafa"/>
<line x1="1068" y1="987.5" x2="1539" y2="987.5" stroke="#efefef"/>
<rect x="1071" y="976" width="447" height="7.3" rx="3.6" fill="#c3c3c3"/>

<!-- ===== Card I ===== -->
<text x="1083.3" y="1165" class="d">6 Item(s)</text>
<line x1="1155.5" y1="1152" x2="1155.5" y2="1168" stroke="#ddd"/>
<text x="1318" y="1165" class="s" text-anchor="end">1 to 5 of 6</text>
<text x="1405.7" y="1165" class="s">Page 1 of 2</text>
<use href="#pgOn" transform="translate(1043,1160)"/>
<text x="1078.3" y="1207.5" class="h" textLength="60" lengthAdjust="spacingAndGlyphs">Plugin ID</text>
<text x="1178.3" y="1207.5" class="h" textLength="40" lengthAdjust="spacingAndGlyphs">Name</text>
<text x="1388.3" y="1207.5" class="h" textLength="28" lengthAdjust="spacingAndGlyphs">VPR</text>
<path d="M1424.5,1199.5 l3.5,3.5 l3.5,-3.5" fill="none" stroke="#333" stroke-width="1.2"/>
<text x="1468.3" y="1207.5" class="h" textLength="35" lengthAdjust="spacingAndGlyphs">Total</text>
<line x1="1068" y1="1218.5" x2="1539" y2="1218.5" stroke="#1b2a47" stroke-width="1.6"/>
<g stroke="#e6e6e6"><line x1="1068" y1="1258.3" x2="1539" y2="1258.3"/><line x1="1068" y1="1298.3" x2="1539" y2="1298.3"/><line x1="1068" y1="1338.3" x2="1539" y2="1338.3"/><line x1="1068" y1="1378.3" x2="1539" y2="1378.3"/><line x1="1068" y1="1418.3" x2="1539" y2="1418.3"/></g>
<text x="1078" y="1244" class="lk">270574</text><text x="1178" y="1244" class="d">Cursor &lt; 1.7 RCE (GHSA-x…</text><text x="1388" y="1244" class="d">5.9</text><text x="1468" y="1244" class="d">1</text>
<text x="1078" y="1284" class="lk">213084</text><text x="1178" y="1284" class="d">Pandas DataFrame.query C…</text><text x="1388" y="1284" class="d">5.9</text><text x="1468" y="1284" class="d">3</text>
<text x="1078" y="1324" class="lk">210057</text><text x="1178" y="1324" class="d">NumPy &lt; 1.22.2 Null Pointe…</text><text x="1388" y="1324" class="d">4.4</text><text x="1468" y="1324" class="d">1</text>
<text x="1078" y="1364" class="lk">210056</text><text x="1178" y="1364" class="d">NumPy 1.9.x &lt; 1.21.0 Buffe…</text><text x="1388" y="1364" class="d">4.4</text><text x="1468" y="1364" class="d">1</text>
<text x="1078" y="1404" class="lk">210054</text><text x="1178" y="1404" class="d">NumPy &lt; 1.19 DoS</text><text x="1388" y="1404" class="d">4.4</text><text x="1468" y="1404" class="d">1</text>
<rect x="1068" y="1418.8" width="471" height="15" fill="#fafafa"/>
<line x1="1068" y1="1434.5" x2="1539" y2="1434.5" stroke="#efefef"/>
<rect x="1071" y="1423.3" width="447" height="7.3" rx="3.6" fill="#c3c3c3"/>
</svg>
</body></html>
